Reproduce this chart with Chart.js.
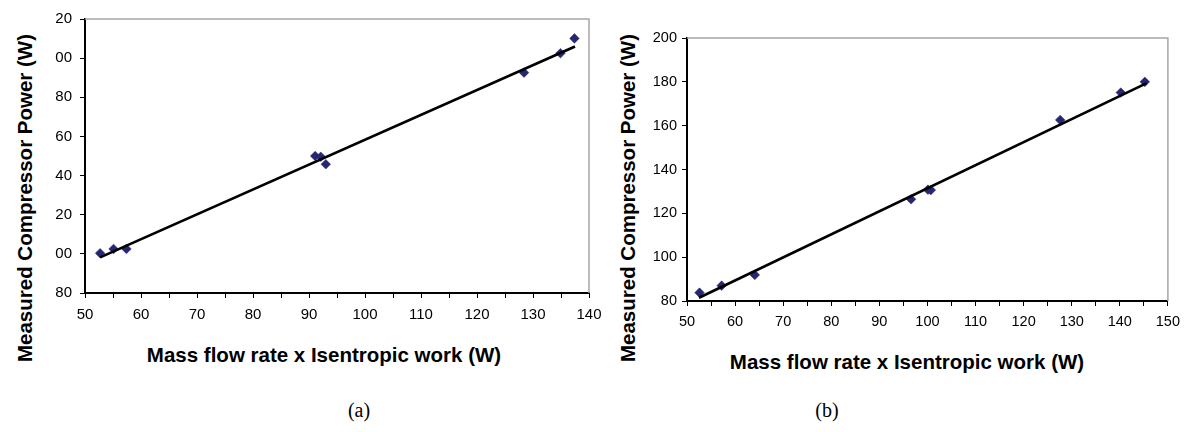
<!DOCTYPE html>
<html><head><meta charset="utf-8">
<script src="https://cdn.jsdelivr.net/npm/chart.js@4.4.1/dist/chart.umd.min.js"></script>
<style>
html,body{margin:0;padding:0;background:#fff;width:1187px;height:432px;overflow:hidden;position:relative;font-family:"Liberation Sans",Arial,sans-serif;}
canvas{position:absolute;top:0;}
#ca{left:55px;}
#cb{left:645px;}
.t{position:absolute;font-weight:bold;font-size:20.5px;white-space:nowrap;color:#000;transform:translate(-50%,-50%);line-height:1;}
.yt{transform:translate(-50%,-50%) rotate(-90deg);}
.cap{position:absolute;font-family:"Liberation Serif","Times New Roman",serif;font-size:20px;transform:translate(-50%,-50%);line-height:1;}
</style></head>
<body>
<canvas id="ca" width="558" height="330"></canvas>
<canvas id="cb" width="542" height="340"></canvas>
<div class="t yt" style="left:25px;top:198px;">Measured Compressor Power (W)</div>
<div class="t yt" style="left:628px;top:198px;">Measured Compressor Power (W)</div>
<div class="t" style="left:324px;top:355px;">Mass flow rate x Isentropic work (W)</div>
<div class="t" style="left:907px;top:362px;">Mass flow rate x Isentropic work (W)</div>
<div class="cap" style="left:359px;top:410px;">(a)</div>
<div class="cap" style="left:827px;top:410px;">(b)</div>
<script>
// ---- data (a) ----
const xA = [52.7, 55.1, 57.4, 91.1, 92.1, 93.0, 128.4, 134.9, 137.4];
const yA = [100.3, 102.5, 102.5, 150.0, 149.6, 145.8, 192.6, 202.5, 210.1];
const trendXA = [52.7, 137.5];
const trendYA = [98.2, 205.9];
// ---- data (b) ----
const xB = [52.6, 57.2, 64.1, 96.6, 100.1, 100.7, 127.6, 140.2, 145.2];
const yB = [83.8, 87.0, 91.9, 126.4, 130.8, 130.6, 162.6, 175.1, 180.0];
const trendXB = [52.5, 145.6];
const trendYB = [81.5, 179.4];
// ---- axes ----
const xMinA = 50, xMaxA = 140, yMinA = 80, yMaxA = 220;
const xMinB = 50, xMaxB = 150, yMinB = 80, yMaxB = 200;
const xStep = 5, xLabelStep = 10, yStep = 20;

const pairs = (xs, ys) => xs.map((x, i) => ({x: x, y: ys[i]}));

const framePlugin = {
  id: 'frame',
  beforeDatasetsDraw(chart) {
    const {ctx, chartArea: a} = chart;
    ctx.save();
    ctx.strokeStyle = '#a6a6a6';
    ctx.lineWidth = 1.5;
    ctx.beginPath();
    ctx.moveTo(a.left, a.top);
    ctx.lineTo(a.right, a.top);
    ctx.lineTo(a.right, a.bottom);
    ctx.stroke();
    ctx.restore();
  }
};

function makeChart(id, xs, ys, tx, ty, xmin, xmax, ymin, ymax, o) {
  return new Chart(document.getElementById(id), {
    type: 'scatter',
    data: {
      datasets: [
        {
          data: pairs(xs, ys),
          pointStyle: 'rectRot',
          pointRadius: 4.8,
          pointBackgroundColor: '#262673',
          pointBorderColor: '#262673',
          pointBorderWidth: 0.5,
          showLine: false,
          order: 1
        },
        {
          type: 'line',
          data: pairs(tx, ty),
          borderColor: '#000',
          borderWidth: 2.7,
          pointRadius: 0,
          fill: false,
          order: 0
        }
      ]
    },
    options: {
      responsive: false,
      animation: false,
      devicePixelRatio: 1,
      layout: {padding: {left: 0, top: o.top, right: o.right, bottom: 0}},
      plugins: {legend: {display: false}, tooltip: {enabled: false}},
      scales: {
        x: {
          type: 'linear',
          min: xmin, max: xmax,
          border: {color: '#000', width: 2},
          grid: {display: true, drawOnChartArea: false, drawTicks: true, tickLength: 5, color: '#000', lineWidth: 1},
          ticks: {
            stepSize: xStep, autoSkip: false, maxRotation: 0, padding: o.xpad,
            color: '#000', font: {family: 'Liberation Sans', size: o.fs},
            callback: v => (v % xLabelStep === 0 ? String(v) : '')
          },
          afterFit: s => { s.height = o.xh; }
        },
        y: {
          type: 'linear',
          min: ymin, max: ymax,
          border: {color: '#000', width: 2},
          grid: {display: true, drawOnChartArea: false, drawTicks: true, tickLength: 5, color: '#000', lineWidth: 1},
          ticks: {
            stepSize: yStep, padding: o.ypad,
            color: '#000', font: {family: 'Liberation Sans', size: o.fs}
          },
          afterFit: s => { s.width = o.yw; }
        }
      }
    },
    plugins: [framePlugin]
  });
}

makeChart('ca', xA, yA, trendXA, trendYA, xMinA, xMaxA, yMinA, yMaxA,
  {top: 19, right: 24, xh: 37, yw: 30, xpad: 8, ypad: 8, fs: 15});
makeChart('cb', xB, yB, trendXB, trendYB, xMinB, xMaxB, yMinB, yMaxB,
  {top: 38, right: 16, xh: 39, yw: 42, xpad: 7, ypad: 5, fs: 14.5});
</script>
</body></html>
